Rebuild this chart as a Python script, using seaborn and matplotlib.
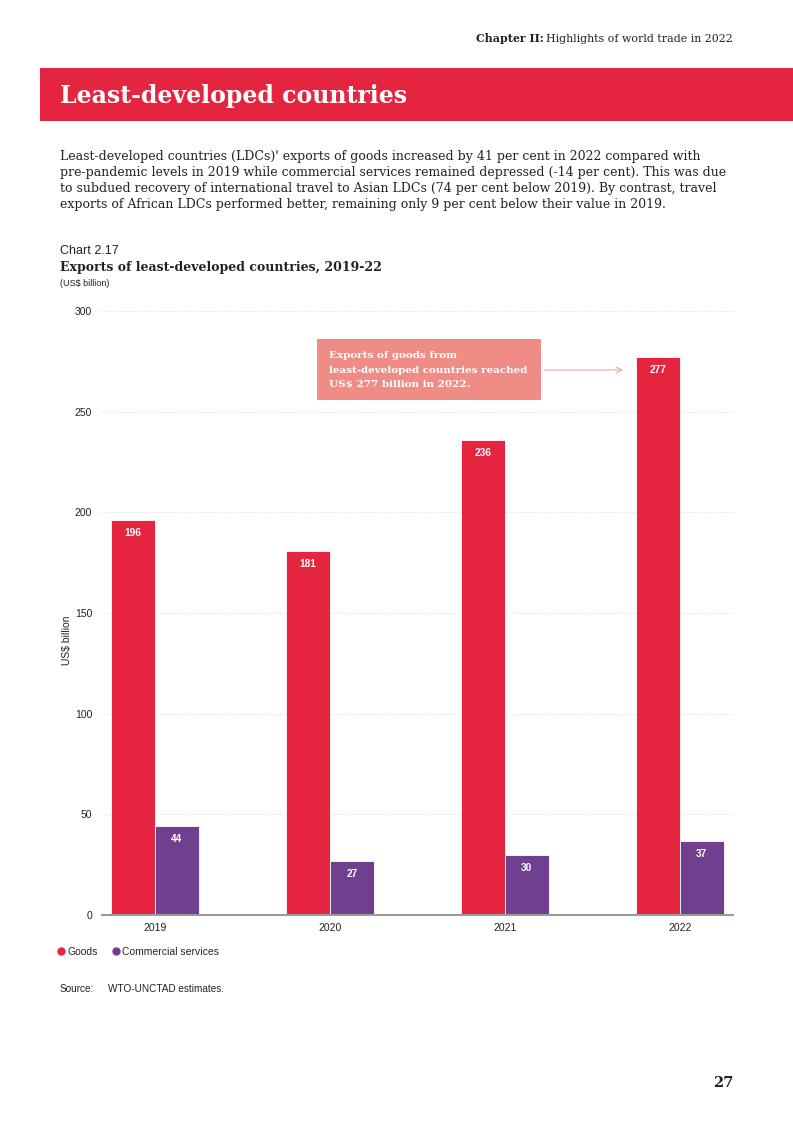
import matplotlib
matplotlib.use("Agg")
import matplotlib.pyplot as plt
import seaborn as sns
import pandas as pd
from matplotlib.lines import Line2D
from matplotlib.patches import Rectangle

years = ["2019", "2020", "2021", "2022"]
goods = [196, 181, 236, 277]
services = [44, 27, 30, 37]
series_names = ["Goods", "Commercial services"]
y_ticks = [0, 50, 100, 150, 200, 250, 300]
note_lines = ["Exports of goods from", "least-developed countries reached",
              "US$ 277 billion in 2022."]

RED = "#E5243F"
PURPLE = "#713F90"
BOX = "#F08C86"

df = pd.DataFrame({
    "year": years * 2,
    "value": goods + services,
    "series": [series_names[0]] * len(years) + [series_names[1]] * len(years),
})

sns.set_theme(style="white")
plt.rcParams["font.family"] = ["Liberation Sans", "DejaVu Sans"]

W, H = 793, 1122
fig = plt.figure(figsize=(W / 100, H / 100), dpi=100)

def fx(px):
    return px / W

def fy(py):
    return 1 - py / H

ax = fig.add_axes([fx(102), fy(915), fx(733) - fx(102), fy(311) - fy(915)])
sns.barplot(data=df, x="year", y="value", hue="series", order=years,
            hue_order=series_names, palette=[RED, PURPLE], width=0.5,
            saturation=1, edgecolor="white", linewidth=0.6, ax=ax, legend=False)

ax.set_xlim(-0.303, 3.303)
ax.set_ylim(0, 300)
ax.set_yticks(y_ticks)
ax.set_yticklabels([str(t) for t in y_ticks], fontsize=7.5, color="#222222")
ax.tick_params(axis="x", labelsize=7.5, colors="#222222", length=0, pad=6)
ax.tick_params(axis="y", length=0, pad=7)
ax.set_xlabel("")
ax.set_ylabel("US$ billion", fontsize=7.5, color="#222222", labelpad=1)
ax.yaxis.set_label_coords(fx(72 - 102) / (fx(733) - fx(102)), 0.455)
for s in ["top", "right", "left"]:
    ax.spines[s].set_visible(False)
ax.spines["bottom"].set_color("#9a9a9a")
ax.spines["bottom"].set_linewidth(1.5)
ax.yaxis.grid(True, linestyle=(0, (1, 2)), color="#cfcfcf", linewidth=0.6)
ax.set_axisbelow(True)

# value labels inside bars
for cont in ax.containers:
    for bar in cont:
        h = bar.get_height()
        ax.annotate(f"{h:.0f}", (bar.get_x() + bar.get_width() / 2, h),
                    xytext=(0, -13), textcoords="offset pixels",
                    ha="center", va="center", color="white",
                    fontsize=7.3, fontweight="bold")

# annotation box and arrow (data coordinates)
ax.add_patch(Rectangle((0.926, 255.8), 2.206 - 0.926, 286.1 - 255.8,
                       facecolor=BOX, edgecolor="none", zorder=5, clip_on=False))
ax.annotate("", xy=(2.69, 270.7), xytext=(2.206, 270.7),
            arrowprops=dict(arrowstyle="->", color="#F2A3A0", lw=0.8,
                            mutation_scale=10), zorder=6)
for i, line in enumerate(note_lines):
    fig.text(fx(329), fy(355 + 15 * i), line, ha="left", va="center", color="white",
             fontsize=7.5, fontweight="bold", family="DejaVu Serif", zorder=7)

# header
renderer = fig.canvas.get_renderer()
t_norm = fig.text(fx(733), fy(39), "Highlights of world trade in 2022",
                  ha="right", va="center", fontsize=7.9, color="#222222",
                  family="DejaVu Serif")
bb = t_norm.get_window_extent(renderer=renderer)
fig.text((bb.x0 - 3) / fig.bbox.width, fy(39), "Chapter II:", ha="right", va="center",
         fontsize=7.9, fontweight="bold", color="#222222", family="DejaVu Serif")
fig.patches.append(Rectangle((fx(40), fy(121)), 1 - fx(40), fy(68) - fy(121),
                             transform=fig.transFigure, facecolor=RED,
                             edgecolor="none", zorder=0))
fig.text(fx(60), fy(96), "Least-developed countries", ha="left", va="center",
         fontsize=17, fontweight="bold", color="white", family="DejaVu Serif")

para = ("Least-developed countries (LDCs)' exports of goods increased by 41 per cent in 2022 compared with\n"
        "pre-pandemic levels in 2019 while commercial services remained depressed (-14 per cent). This was due\n"
        "to subdued recovery of international travel to Asian LDCs (74 per cent below 2019). By contrast, travel\n"
        "exports of African LDCs performed better, remaining only 9 per cent below their value in 2019.")
fig.text(fx(60), fy(150), para, ha="left", va="top", fontsize=9.0,
         color="#222222", family="DejaVu Serif", linespacing=1.29)

fig.text(fx(60), fy(251), "Chart 2.17", ha="left", va="center", fontsize=9, color="#222222")
fig.text(fx(60), fy(267), "Exports of least-developed countries, 2019-22", ha="left",
         va="center", fontsize=9, fontweight="bold", color="#222222", family="DejaVu Serif")
fig.text(fx(60), fy(284), "(US$ billion)", ha="left", va="center", fontsize=6.5, color="#222222")

# legend
handles = [Line2D([0], [0], marker="o", linestyle="none", markersize=6,
                  markerfacecolor=c, markeredgecolor="none") for c in [RED, PURPLE]]
fig.legend(handles, series_names, loc="center left", bbox_to_anchor=(fx(56), fy(952)),
           ncol=2, frameon=False, fontsize=7.5, handletextpad=0.1,
           columnspacing=1.2, handlelength=1.0, borderaxespad=0, borderpad=0)

fig.text(fx(60), fy(989), "Source:", ha="left", va="center", fontsize=7.2, color="#222222")
fig.text(fx(108), fy(989), "WTO-UNCTAD estimates.", ha="left", va="center", fontsize=7.2, color="#222222")

fig.text(fx(733), fy(1083), "27", ha="right", va="center", fontsize=10.5,
         fontweight="bold", color="#222222", family="DejaVu Serif")

fig.savefig("out.png", dpi=100)
